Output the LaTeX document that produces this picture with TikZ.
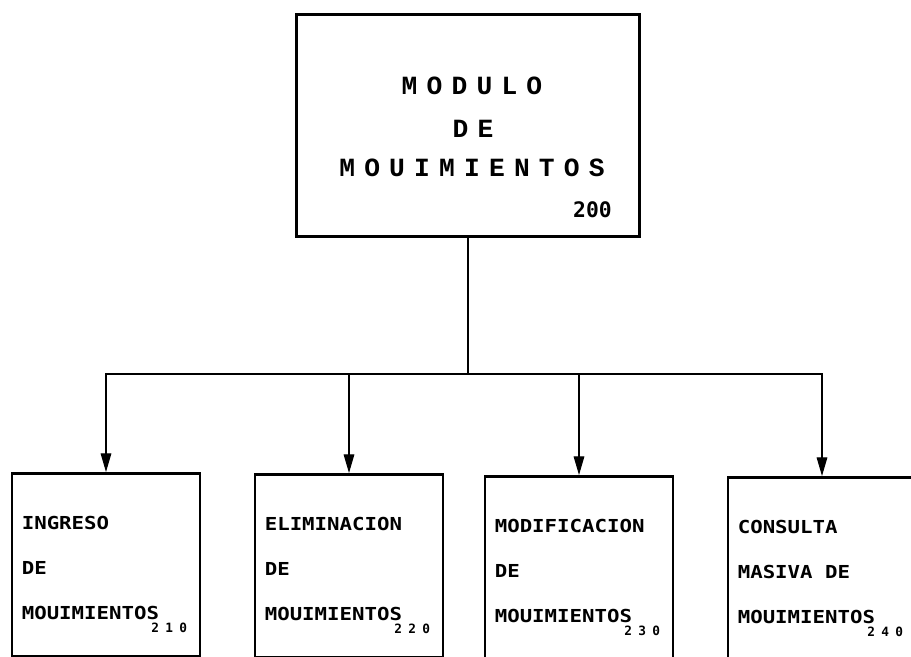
\documentclass[tikz,border=0pt]{standalone}
\usepackage{fontspec}
\usetikzlibrary{arrows.meta}
\newfontfamily\headfont[LetterSpace=35]{Liberation Mono}
\newfontfamily\boxfont[FakeStretch=1.16]{DejaVu Sans Mono}
\newfontfamily\numfont[LetterSpace=50]{DejaVu Sans Mono}
\newfontfamily\mainnum{DejaVu Sans Mono}

\begin{document}
\begin{tikzpicture}[x=0.75pt,y=-0.75pt,
  box/.style={draw, line width=2.2pt, inner sep=0pt},
  sub/.style={box, anchor=north, minimum width=141pt, minimum height=137pt},
  head/.style={inner sep=0pt, font=\headfont\bfseries\fontsize{19.7}{20}\selectfont},
  line/.style={inner sep=0pt, anchor=base west, font=\boxfont\bfseries\fontsize{13.4}{14}\selectfont},
  num/.style={inner sep=0pt, anchor=base east, font=\numfont\bfseries\fontsize{9.6}{10}\selectfont},
  arr/.style={line width=0.8pt, -{Triangle[length=14pt,width=8pt]}}]
  \useasboundingbox (0,0) rectangle (911,657);
  \clip (0,0) rectangle (911,657);

  % main module
  \node[box, minimum width=257pt, minimum height=167pt] (m200) at (468,125.5) {};
  \node[head] (t1) at (472,86) {MODULO};
  \node[head] (t2) at (473,129) {DE};
  \node[head] (t3) at (472,168) {MOUIMIENTOS};
  \node[inner sep=0pt, anchor=base east, font=\mainnum\bfseries\fontsize{16}{16}\selectfont] (n200) at (612,217) {200};

  % sub modules
  \foreach \n/\x/\y/\a/\b in {210/106/472/INGRESO/DE, 220/349/473/ELIMINACION/DE,
      230/579/475/MODIFICACION/DE, 240/822/476/CONSULTA/MASIVA DE}{
    \node[sub] (m\n) at (\x,\y) {};
    \node[line] (a\n) at ([shift={(11,57)}]m\n.north west) {\a};
    \node[line] (b\n) at ([shift={(11,102)}]m\n.north west) {\b};
    \node[line] (c\n) at ([shift={(11,147)}]m\n.north west) {MOUIMIENTOS};
    \node[num] (d\n) at ([shift={(-14,160)}]m\n.north east) {\n};
  }

  \coordinate (bus) at (m200.south |- 0,374);
  \draw[line width=0.8pt] (m200.south) -- (bus);
  \foreach \n in {210,220,230,240}{ \draw[arr] (bus) -| (m\n.north); }
\end{tikzpicture}
\end{document}
